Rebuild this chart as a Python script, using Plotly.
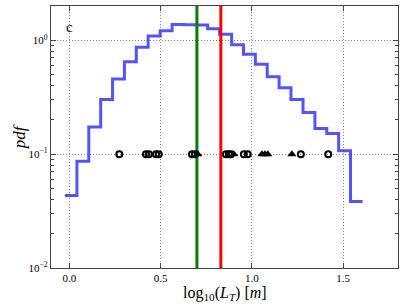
import plotly.graph_objects as go

# histogram (step) data
bin_edges = [-0.024, 0.042, 0.107, 0.172, 0.237, 0.302, 0.367, 0.432, 0.498, 0.563,
             0.628, 0.693, 0.758, 0.823, 0.889, 0.954, 1.019, 1.084, 1.149, 1.214,
             1.280, 1.345, 1.410, 1.475, 1.540, 1.606]
pdf_values = [0.0434, 0.0865, 0.173, 0.302, 0.456, 0.648, 0.868, 1.09, 1.215, 1.379,
              1.369, 1.361, 1.265, 1.129, 0.915, 0.753, 0.615, 0.478, 0.382, 0.302,
              0.232, 0.168, 0.152, 0.107, 0.0384]

# individual observations plotted at pdf = 0.1
circle_x = [0.274, 0.42, 0.436, 0.475, 0.49, 0.672, 0.688, 0.858, 0.874, 0.885,
            0.956, 0.977, 1.268, 1.418]
triangle_x = [0.704, 0.901, 1.055, 1.071, 1.087, 1.219]
marker_level = 0.1

green_x = 0.699
red_x = 0.830

x_ticks = [0.0, 0.5, 1.0, 1.5]
x_ticktext = ["0.0", "0.5", "1.0", "1.5"]
y_ticks = [0.01, 0.1, 1.0]
y_ticktext = ["10<sup>\u22122</sup>", "10<sup>\u22121</sup>", "10<sup>0</sup>"]

fig = go.Figure()

fig.add_trace(go.Scatter(
    x=bin_edges, y=pdf_values + [pdf_values[-1]],
    mode="lines", line=dict(shape="hv", color="rgba(40,40,255,0.8)", width=3),
    showlegend=False, hoverinfo="skip"))

fig.add_trace(go.Scatter(
    x=[green_x, green_x], y=[0.01, 2.0], mode="lines",
    line=dict(color="#008000", width=3), showlegend=False))
fig.add_trace(go.Scatter(
    x=[red_x, red_x], y=[0.01, 2.0], mode="lines",
    line=dict(color="#ff0000", width=3), showlegend=False))

fig.add_trace(go.Scatter(
    x=circle_x, y=[marker_level] * len(circle_x), mode="markers",
    marker=dict(symbol="circle-open", size=6, color="black", line=dict(width=2)),
    showlegend=False))
fig.add_trace(go.Scatter(
    x=triangle_x, y=[marker_level] * len(triangle_x), mode="markers",
    marker=dict(symbol="triangle-up", size=8, color="black"),
    showlegend=False))

fig.add_annotation(x=0.0, y=0.918, xref="x", yref="y domain", text="c", showarrow=False,
                   font=dict(family="Liberation Serif", size=15, color="black"),
                   xanchor="center", yanchor="middle")

# axis titles as annotations for precise placement
fig.add_annotation(x=0.5, y=-0.055, xref="x domain", yref="y domain",
                   text="log<sub>10</sub>(<i>L<sub>T</sub></i>) [<i>m</i>]",
                   showarrow=False, xanchor="center", yanchor="top",
                   font=dict(family="Liberation Serif", size=16, color="black"))
fig.add_annotation(x=-0.058, y=0.5, xref="x domain", yref="y domain",
                   text="<i>pdf</i>", textangle=-90,
                   showarrow=False, xanchor="right", yanchor="middle",
                   font=dict(family="Liberation Serif", size=17, color="black"))

grid_dash = "1px,2px"
fig.update_layout(
    width=407, height=305,
    margin=dict(l=51, r=9, t=6, b=37, autoexpand=False),
    paper_bgcolor="white", plot_bgcolor="white",
    font=dict(family="Liberation Serif", color="black", size=11),
    xaxis=dict(range=[-0.1, 1.8], tickvals=x_ticks, ticktext=x_ticktext,
               ticks="inside", ticklen=5, tickcolor="#444", mirror="ticks",
               showline=True, linecolor="#444", linewidth=1.2,
               showgrid=True, gridcolor="#888", griddash=grid_dash, gridwidth=1,
               zeroline=False, automargin=False),
    yaxis=dict(type="log", range=[-2, 0.301], tickvals=y_ticks, ticktext=y_ticktext,
               ticks="inside", ticklen=5, tickcolor="#444", mirror="ticks",
               showline=True, linecolor="#444", linewidth=1.2,
               showgrid=True, gridcolor="#888", griddash=grid_dash, gridwidth=1,
               zeroline=False, automargin=False,
               minor=dict(ticks="inside", ticklen=3, tickcolor="#444",
                          tickvals=[0.02, 0.03, 0.04, 0.05, 0.06, 0.07, 0.08, 0.09,
                                    0.2, 0.3, 0.4, 0.5, 0.6, 0.7, 0.8, 0.9, 2.0])),
)

fig.write_html("out.html", config={"displayModeBar": False},
               post_script="document.body.style.margin='0';document.body.style.overflow='hidden';")
